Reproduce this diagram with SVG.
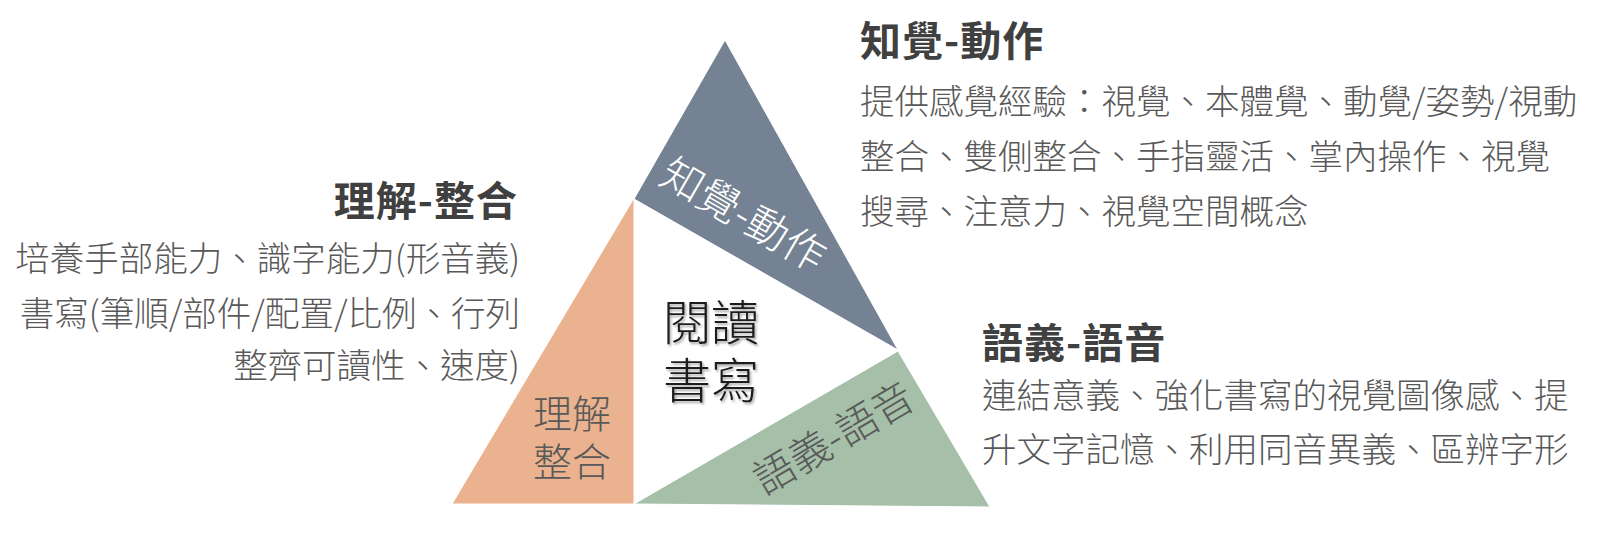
<svg xmlns="http://www.w3.org/2000/svg" width="1600" height="545" viewBox="0 0 1600 545">
  <defs>
    <filter id="shadow" x="-20%" y="-20%" width="140%" height="140%">
      <feDropShadow dx="1.5" dy="2" stdDeviation="1.2" flood-color="#000000" flood-opacity="0.35"/>
    </filter>
  </defs>
  <style>
    text { font-family: "Noto Sans CJK TC", "Noto Sans CJK SC", "Liberation Sans", sans-serif; }
    .title { font-size: 41px; font-weight: bold; fill: #404040; letter-spacing: 1px; }
    .body { font-size: 34.5px; font-weight: 300; fill: #595959; }
    .tri { stroke: #ffffff; stroke-width: 1; }
    .inner { font-weight: 300; }
    .center { font-size: 48px; font-weight: 300; fill: #1a1a1a; }
  </style>
  <rect width="1600" height="545" fill="#ffffff"/>

  <g id="connectors"></g>

  <g id="node-perception">
    <polygon class="tri" points="725,40 634,199 898,350" fill="#748293"/>
    <text class="inner" x="744" y="230" font-size="42" fill="#ffffff" text-anchor="middle" transform="rotate(30 744 214)">知覺-動作</text>
  </g>

  <g id="node-comprehension">
    <polygon class="tri" points="634,198 452,504 634,504" fill="#EAB28E"/>
    <text class="inner" font-size="39" fill="#595959" text-anchor="middle"><tspan x="572" y="428">理解</tspan><tspan x="572" y="476">整合</tspan></text>
  </g>

  <g id="node-semantic">
    <polygon class="tri" points="898,351 634,504 990,507" fill="#A5BFA8"/>
    <text class="inner" x="833" y="453" font-size="41" fill="#595959" text-anchor="middle" transform="rotate(-30.5 833 437)">語義-語音</text>
  </g>

  <g id="node-center">
    <polygon points="634,199 898,351 634,504" fill="#ffffff"/>
    <text class="center" text-anchor="middle" filter="url(#shadow)"><tspan x="711" y="340">閱讀</tspan><tspan x="711" y="398">書寫</tspan></text>
  </g>

  <g id="label-perception">
    <text class="title" x="860" y="56">知覺-動作</text>
    <text class="body" x="860" y="114">提供感覺經驗：視覺、本體覺、動覺/姿勢/視動</text>
    <text class="body" x="860" y="169">整合、雙側整合、手指靈活、掌內操作、視覺</text>
    <text class="body" x="860" y="224">搜尋、注意力、視覺空間概念</text>
  </g>

  <g id="label-comprehension">
    <text class="title" x="518" y="216" text-anchor="end">理解-整合</text>
    <text class="body" x="520" y="271" text-anchor="end">培養手部能力、識字能力(形音義)</text>
    <text class="body" x="520" y="326" text-anchor="end">書寫(筆順/部件/配置/比例、行列</text>
    <text class="body" x="520" y="378" text-anchor="end">整齊可讀性、速度)</text>
  </g>

  <g id="label-semantic">
    <text class="title" x="982" y="358">語義-語音</text>
    <text class="body" x="982" y="408">連結意義、強化書寫的視覺圖像感、提</text>
    <text class="body" x="982" y="462">升文字記憶、利用同音異義、區辨字形</text>
  </g>
</svg>
